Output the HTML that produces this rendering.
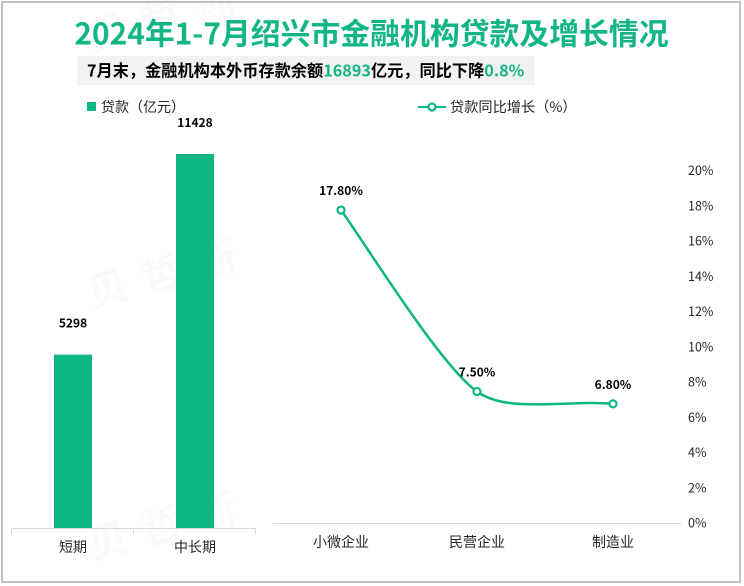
<!DOCTYPE html>
<html lang="zh">
<head>
<meta charset="utf-8">
<title>2024年1-7月绍兴市金融机构贷款及增长情况</title>
<style>
html,body{margin:0;padding:0;background:#fff;}
body{width:744px;height:586px;overflow:hidden;position:relative;font-family:"Noto Sans CJK SC","Liberation Sans",sans-serif;}
#frame{position:absolute;left:1px;top:1px;width:736px;height:578px;border:2px solid #bfbfbf;background:#fff;}
#chart{position:absolute;left:0;top:0;}
text{font-family:"Noto Sans CJK SC","Liberation Sans",sans-serif;}
</style>
</head>
<body>
<div id="frame"></div>
<svg id="chart" width="744" height="586" viewBox="0 0 744 586">
  <g fill="#000" opacity="0.014" font-weight="700" font-size="40" letter-spacing="16">
    <text x="92" y="308" transform="rotate(-15 92 308)">贝哲斯</text>
    <text x="92" y="560" transform="rotate(-15 92 560)">贝哲斯</text>
    <text x="92" y="52" transform="rotate(-15 92 52)">贝哲斯</text>
  </g>
  <text x="371.5" y="44.5" text-anchor="middle" font-size="29.85" font-weight="700" fill="#12b584">2024年1-7月绍兴市金融机构贷款及增长情况</text>
  <rect x="77" y="56" width="458" height="29" fill="#f2f2f2"></rect>
  <text x="87" y="76.5" font-size="16.2" font-weight="700" fill="#000">7月末，金融机构本外币存款余额<tspan fill="#12b584">16893</tspan>亿元，同比下降<tspan fill="#12b584">0.8%</tspan></text>

  <g>
    <rect x="87" y="102" width="9" height="9" fill="#0db682"></rect>
    <text x="101" y="112" font-size="14" fill="#262626">贷款（亿元）</text>
  </g>
  <g>
    <line x1="418" y1="107" x2="446" y2="107" stroke="#0db682" stroke-width="2"></line>
    <circle cx="432" cy="107" r="3.5" fill="#fff" stroke="#0db682" stroke-width="2.2"></circle>
    <text x="450" y="112" font-size="14.2" fill="#262626">贷款同比增长（%）</text>
  </g>

  <g id="left-chart"></g>
  <g id="right-chart"></g>
</svg>
<script>
var barCategories = ['短期', '中长期'];
var barValues = [5298, 11428];
var lineCategories = ['小微企业', '民营企业', '制造业'];
var lineValues = [17.8, 7.5, 6.8];
var lineTickLabels = [0, 2, 4, 6, 8, 10, 12, 14, 16, 18, 20];

var NS = 'http://www.w3.org/2000/svg';
function make(tag, parent, attrs, txt) {
  var el = document.createElementNS(NS, tag);
  for (var k in attrs) el.setAttribute(k, attrs[k]);
  if (txt !== undefined) el.textContent = txt;
  parent.appendChild(el);
  return el;
}

var green = '#0db682';
var left = document.getElementById('left-chart');
var right = document.getElementById('right-chart');

/* Left axis functions */
var barBase = 528;
var barScale = 374 / 11428;
var barX0 = 12, barBand = 122, barWidth = 38;
function barY(v) { return barBase - v * barScale; }
function barCenter(i) { return barX0 + barBand * (i + 0.5); }

barCategories.forEach(function (cat, i) {
  var cx = barCenter(i), y = barY(barValues[i]);
  var r = make('rect', left, {x: cx - barWidth / 2, y: y, width: barWidth, height: barBase - y, fill: green});
  
  
  var v = make('text', left, {x: cx, y: y - 27, 'text-anchor': 'middle', 'font-size': 12, 'font-weight': 700, fill: '#000'}, String(barValues[i]));
  
  
  var t = make('text', left, {x: cx, y: 552, 'text-anchor': 'middle', 'font-size': 14, fill: '#262626'}, cat);
  
  
});
var leftAxis = make('line', left, {x1: barX0 - 0.5, x2: barX0 + barBand * barCategories.length - 0.5, y1: 528.5, y2: 528.5, stroke: '#d9d9d9', 'stroke-width': 1});


for (var b = 0; b <= barCategories.length; b++) {
  var tx = barX0 + barBand * b - 0.5;
  var tick = make('line', left, {x1: tx, x2: tx, y1: 528, y2: 534, stroke: '#d9d9d9', 'stroke-width': 1});
  
  
}

/* Right axis functions */
var lineBase = 523.7;
var lineUnit = 17.62;
var lineX0 = 273, lineBand = 136;
function lineY(v) { return lineBase - v * lineUnit; }
function lineX(i) { return lineX0 + lineBand * (i + 0.5); }

var rightAxis = make('line', right, {x1: lineX0, x2: 681, y1: 523.5, y2: 523.5, stroke: '#d9d9d9', 'stroke-width': 1});



lineTickLabels.forEach(function (v) {
  var t = make('text', right, {x: 688, y: lineY(v) + 3.9, 'font-size': 12.5, fill: '#262626'}, v + '%');
  
  
});

lineCategories.forEach(function (cat, i) {
  var t = make('text', right, {x: lineX(i), y: 547, 'text-anchor': 'middle', 'font-size': 14, fill: '#262626'}, cat);
  
  
});

/* Smooth curve derived from the data */
var pts = lineValues.map(function (v, i) { return [lineX(i), lineY(v)]; });
var startTension = 0.14, endTension = 0.35, innerInTension = 0.14, innerOutTension = 0.115;
var d = 'M' + pts[0][0] + ' ' + pts[0][1];
for (var i = 0; i < pts.length - 1; i++) {
  var p0 = pts[Math.max(i - 1, 0)], p1 = pts[i], p2 = pts[i + 1], p3 = pts[Math.min(i + 2, pts.length - 1)];
  var tOut = i === 0 ? startTension : innerOutTension;
  var tIn = i === pts.length - 2 ? endTension : innerInTension;
  var c1x = p1[0] + (p2[0] - p0[0]) * tOut;
  var c1y = p1[1] + (p2[1] - p0[1]) * tOut;
  var c2x = p2[0] - (p3[0] - p1[0]) * tIn;
  var c2y = p2[1] - (p3[1] - p1[1]) * tIn;
  d += ' C' + c1x + ' ' + c1y + ' ' + c2x + ' ' + c2y + ' ' + p2[0] + ' ' + p2[1];
}
var curve = make('path', right, {d: d, fill: 'none', stroke: green, 'stroke-width': 2.5, 'stroke-linecap': 'round'});



lineValues.forEach(function (v, i) {
  var x = lineX(i), y = lineY(v);
  var c = make('circle', right, {cx: x, cy: y, r: 3.5, fill: '#fff', stroke: green, 'stroke-width': 2.2});
  
  
  var l = make('text', right, {x: x, y: y - 15, 'text-anchor': 'middle', 'font-size': 12, 'font-weight': 700, fill: '#000'}, v.toFixed(2) + '%');
  
  
});
</script>
</body>
</html>
